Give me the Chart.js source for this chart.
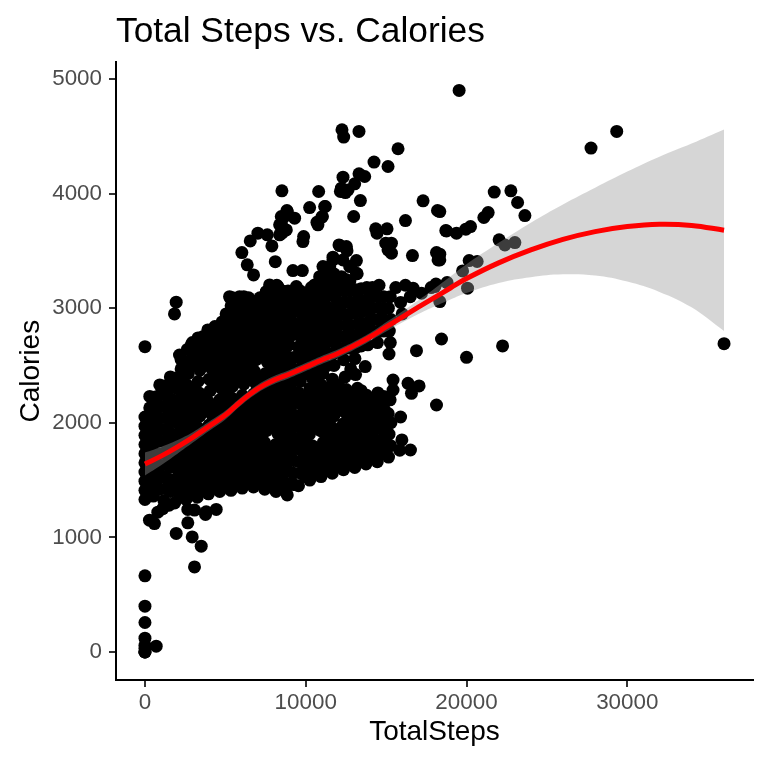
<!DOCTYPE html>
<html>
<head>
<meta charset="utf-8">
<script src="https://cdn.jsdelivr.net/npm/chart.js@4.4.1/dist/chart.umd.min.js"></script>
<style>
  html, body { margin: 0; padding: 0; background: #fff; }
  #wrap { width: 768px; height: 766px; }
</style>
</head>
<body>
<div id="wrap"><canvas id="chart" width="768" height="766"></canvas></div>
<script>
/* ===== data: [TotalSteps, Calories] ===== */
const zeroStepDays = [
  [0, 0], [0, 0], [0, 0], [0, 30], [0, 57], [0, 120], [0, 257], [0, 399], [0, 664], [700, 50],
  [0, 1330], [0, 1410], [0, 1490], [0, 1570], [0, 1650], [0, 1730], [0, 1810], [0, 1890],
  [0, 1970], [0, 2050], [0, 2664],
];

const lowDays = [
  [280, 1150], [590, 1120], [800, 1220], [1110, 1250], [1500, 1280], [1943, 1034], [2665, 1127],
  [2939, 1004], [3500, 923], [3082, 742], [2665, 1244], [3082, 1238], [3767, 1200], [4434, 1244],
  [3810, 1223],
];

const coreDays = [
  [520, 1360], [650, 1455], [580, 1560], [700, 1650], [540, 1750], [660, 1845], [600, 1950], [720, 2045], [560, 2140], [640, 2225],
  [1180, 1320], [1300, 1425], [1220, 1530], [1340, 1640], [1200, 1735], [1290, 1840], [1160, 1940], [1320, 2045], [1240, 2140], [1360, 2235], [1210, 2320],
  [1850, 1300], [1960, 1405], [1880, 1500], [2000, 1600], [1840, 1705], [1940, 1800], [1870, 1895], [2010, 2000], [1900, 2100], [1830, 2195], [1980, 2300], [1920, 2390],
  [2550, 1330], [2660, 1430], [2580, 1535], [2700, 1630], [2540, 1730], [2640, 1830], [2590, 1935], [2720, 2030], [2560, 2130], [2680, 2230], [2600, 2330], [2700, 2430], [2560, 2530], [2640, 2640],
  [3250, 1350], [3380, 1455], [3280, 1560], [3400, 1660], [3220, 1760], [3340, 1860], [3280, 1960], [3420, 2060], [3260, 2160], [3360, 2260], [3300, 2360], [3420, 2460], [3240, 2560], [3360, 2660], [3300, 2740],
  [3950, 1380], [4080, 1480], [3980, 1580], [4100, 1680], [3930, 1780], [4050, 1880], [3990, 1980], [4120, 2080], [3960, 2180], [4060, 2280], [4000, 2380], [4110, 2480], [3940, 2580], [4060, 2680], [4000, 2790],
  [4650, 1400], [4780, 1500], [4680, 1600], [4800, 1700], [4630, 1800], [4750, 1900], [4690, 2000], [4820, 2100], [4660, 2200], [4760, 2300], [4700, 2400], [4810, 2500], [4640, 2600], [4760, 2700], [4700, 2800], [4800, 2880],
  [5350, 1410], [5480, 1510], [5380, 1620], [5500, 1720], [5330, 1820], [5450, 1920], [5390, 2020], [5520, 2120], [5360, 2220], [5460, 2320], [5400, 2420], [5510, 2520], [5340, 2620], [5460, 2720], [5400, 2820], [5500, 2920], [5360, 3020], [5450, 3090],
  [6050, 1430], [6180, 1530], [6080, 1640], [6200, 1740], [6030, 1840], [6150, 1940], [6090, 2040], [6220, 2140], [6060, 2240], [6160, 2340], [6100, 2440], [6210, 2540], [6040, 2640], [6160, 2740], [6100, 2840], [6200, 2940], [6060, 3040], [6150, 3100],
  [6750, 1440], [6880, 1540], [6780, 1650], [6900, 1750], [6730, 1850], [6850, 1950], [6790, 2050], [6920, 2150], [6760, 2250], [6860, 2350], [6800, 2450], [6910, 2550], [6740, 2650], [6860, 2750], [6800, 2850], [6900, 2950], [6760, 3050],
  [7450, 1420], [7580, 1520], [7480, 1630], [7600, 1730], [7430, 1830], [7550, 1930], [7490, 2030], [7620, 2130], [7460, 2230], [7560, 2330], [7500, 2430], [7610, 2530], [7440, 2630], [7560, 2730], [7500, 2830], [7600, 2930], [7460, 3030], [7550, 3140],
  [8150, 1400], [8280, 1500], [8180, 1610], [8300, 1710], [8130, 1810], [8250, 1910], [8190, 2010], [8320, 2110], [8160, 2210], [8260, 2310], [8200, 2410], [8310, 2510], [8140, 2610], [8260, 2710], [8200, 2810], [8300, 2910], [8160, 3010], [8250, 3110], [8200, 3200],
  [8850, 1370], [8980, 1470], [8880, 1580], [9000, 1680], [8830, 1780], [8950, 1880], [8890, 1980], [9020, 2080], [8860, 2180], [8960, 2280], [8900, 2380], [9010, 2480], [8840, 2580], [8960, 2680], [8900, 2780], [9000, 2880], [8860, 2980], [8950, 3080], [8900, 3150],
  [9550, 1450], [9680, 1560], [9580, 1660], [9700, 1760], [9530, 1860], [9650, 1960], [9590, 2060], [9720, 2160], [9560, 2260], [9660, 2360], [9600, 2460], [9710, 2560], [9540, 2660], [9660, 2760], [9600, 2860], [9700, 2960], [9560, 3060], [9650, 3150],
  [10250, 1500], [10380, 1600], [10280, 1700], [10400, 1800], [10230, 1900], [10350, 2000], [10290, 2100], [10420, 2200], [10260, 2300], [10360, 2400], [10300, 2500], [10410, 2600], [10240, 2700], [10360, 2800], [10300, 2900], [10400, 3000], [10260, 3100], [10350, 3180],
  [10950, 1530], [11080, 1630], [10980, 1730], [11100, 1830], [10930, 1930], [11050, 2030], [10990, 2130], [11120, 2230], [10960, 2330], [11060, 2430], [11000, 2530], [11110, 2630], [10940, 2730], [11060, 2830], [11000, 2930], [11100, 3030], [10960, 3130], [11050, 3220],
  [11650, 1560], [11780, 1660], [11680, 1760], [11800, 1860], [11630, 1960], [11750, 2060], [11690, 2160], [11820, 2260], [11660, 2380], [11760, 2500], [11700, 2600], [11810, 2700], [11640, 2800], [11760, 2900], [11700, 3000], [11800, 3100], [11660, 3200], [11750, 3300],
  [12350, 1590], [12480, 1690], [12380, 1790], [12500, 1890], [12330, 1990], [12450, 2090], [12390, 2190], [12520, 2290], [12450, 2400], [12800, 2470], [12360, 2550], [12460, 2650], [12400, 2750], [12510, 2850], [12340, 2950], [12460, 3050], [12400, 3150], [12500, 3250],
  [13050, 1610], [13180, 1710], [13080, 1810], [13200, 1910], [13030, 2010], [13150, 2110], [13090, 2210], [13220, 2300], [13100, 2420], [13060, 2560], [13160, 2660], [13100, 2760], [13210, 2860], [13040, 2960], [13160, 3060], [13100, 3160], [13200, 3300],
  [13750, 1640], [13880, 1740], [13780, 1840], [13900, 1940], [13730, 2040], [13850, 2140], [13790, 2240], [13700, 2490], [13860, 2680], [13800, 2780], [13910, 2880], [13740, 2980], [13860, 3080], [13800, 3180],
  [14450, 1660], [14580, 1740], [14480, 1840], [14600, 1960], [14430, 2060], [14550, 2160], [14490, 2260], [14460, 2700], [14560, 2800], [14500, 2900], [14610, 3000], [14440, 3100], [14560, 3200],
  [15150, 1700], [15280, 1800], [15180, 1900], [15300, 2000], [15130, 2080], [15250, 2200], [15180, 2600], [15260, 2700], [15200, 2800], [15300, 2900], [15140, 3000], [15260, 3100], [15600, 3180],
  [15850, 1760], [15980, 1850], [15900, 2050], [16000, 2950], [15900, 3050], [16200, 3200], [16500, 3100], [17200, 3130], [17800, 3180], [18100, 3210],
];

/* days sitting between the columns above, where the cloud is solid */
const coreFillDays = [
  [300, 1430], [300, 1530], [300, 1630], [300, 1730], [300, 1830], [300, 1930], [300, 2030], [300, 2130], [300, 2230],
  [920, 1420], [920, 1520], [920, 1620], [920, 1730], [920, 1840], [920, 1940], [920, 2040], [920, 2140], [920, 2240], [920, 2330],
  [1580, 1400], [1580, 1500], [1580, 1610], [1580, 1710], [1580, 1810], [1580, 1910], [1580, 2010], [1580, 2110], [1580, 2210], [1580, 2310], [1580, 2400],
  [2250, 1360], [2250, 1470], [2250, 1570], [2250, 1670], [2250, 1770], [2250, 1870], [2250, 1970], [2250, 2070], [2250, 2170], [2250, 2270], [2250, 2370], [2250, 2470], [2250, 2550],
  [2950, 1390], [2950, 1490], [2950, 1590], [2950, 1700], [2950, 1800], [2950, 1900], [2950, 2000], [2950, 2100], [2950, 2200], [2950, 2300], [2950, 2500], [2950, 2600], [2950, 2700],
  [3650, 1420], [3650, 1520], [3650, 1620], [3650, 1720], [3650, 1820], [3650, 1920], [3650, 2120], [3650, 2220], [3650, 2520], [3650, 2620], [3650, 2720],
  [4350, 1440], [4350, 1540], [4350, 1640], [4350, 1740], [4350, 1840], [4350, 1940], [4350, 2040], [4350, 2140], [4350, 2340], [4350, 2440], [4350, 2540], [4350, 2640], [4350, 2740], [4350, 2840],
  [5050, 1460], [5050, 1560], [5050, 1660], [5050, 1760], [5050, 1860], [5050, 1960], [5050, 2060], [5050, 2160], [5050, 2260], [5050, 2360], [5050, 2460], [5050, 2560], [5050, 2660], [5050, 2760], [5050, 2860], [5050, 2950],
  [5750, 1470], [5750, 1570], [5750, 1680], [5750, 1780], [5750, 1880], [5750, 1980], [5750, 2080], [5750, 2180], [5750, 2380], [5750, 2480], [5750, 2580], [5750, 2680], [5750, 2780], [5750, 2880], [5750, 2980], [5750, 3060],
  [6450, 1490], [6450, 1590], [6450, 1700], [6450, 1800], [6450, 1900], [6450, 2000], [6450, 2100], [6450, 2200], [6450, 2400], [6450, 2500], [6450, 2600], [6450, 2700], [6450, 2800], [6450, 2900], [6450, 3000], [6450, 3090],
  [7150, 1480], [7150, 1580], [7150, 1690], [7150, 1790], [7150, 1890], [7150, 1990], [7150, 2090], [7150, 2190], [7150, 2290], [7150, 2390], [7150, 2590], [7150, 2690], [7150, 2790], [7150, 2890], [7150, 2990], [7150, 3090],
  [7850, 1460], [7850, 1560], [7850, 1670], [7850, 1770], [7850, 1970], [7850, 2070], [7850, 2170], [7850, 2270], [7850, 2370], [7850, 2470], [7850, 2570], [7850, 2670], [7850, 2770], [7850, 2870], [7850, 2970], [7850, 3070], [7850, 3160],
  [8550, 1440], [8550, 1540], [8550, 1650], [8550, 1750], [8550, 1850], [8550, 1950], [8550, 2050], [8550, 2150], [8550, 2250], [8550, 2350], [8550, 2450], [8550, 2550], [8550, 2650], [8550, 2750], [8550, 2850], [8550, 2950], [8550, 3050], [8550, 3150],
  [9250, 1460], [9250, 1560], [9250, 1670], [9250, 1770], [9250, 1870], [9250, 1970], [9250, 2070], [9250, 2170], [9250, 2270], [9250, 2370], [9250, 2470], [9250, 2570], [9250, 2770], [9250, 2870], [9250, 2970], [9250, 3070], [9250, 3140],
  [9950, 1530], [9950, 1630], [9950, 1730], [9950, 1830], [9950, 1930], [9950, 2030], [9950, 2130], [9950, 2230], [9950, 2430], [9950, 2530], [9950, 2630], [9950, 2730], [9950, 2830], [9950, 2930], [9950, 3030], [9950, 3120],
  [10650, 1570], [10650, 1670], [10650, 1770], [10650, 1970], [10650, 2070], [10650, 2170], [10650, 2270], [10650, 2370], [10650, 2470], [10650, 2570], [10650, 2670], [10650, 2770], [10650, 2870], [10650, 2970], [10650, 3070], [10650, 3170],
  [11350, 1600], [11350, 1700], [11350, 1800], [11350, 1900], [11350, 2000], [11350, 2100], [11350, 2200], [11350, 2300], [11350, 2500], [11350, 2610], [11350, 2710], [11350, 2810], [11350, 2910], [11350, 3010], [11350, 3110], [11350, 3210],
  [12050, 1630], [12050, 1730], [12050, 1830], [12050, 1930], [12050, 2130], [12050, 2230], [12050, 2330], [12050, 2650], [12050, 2750], [12050, 2850], [12050, 2950], [12050, 3050], [12050, 3150], [12050, 3240],
  [12750, 1650], [12750, 1750], [12750, 1850], [12750, 1950], [12750, 2050], [12750, 2150], [12750, 2250], [12750, 2650], [12750, 2750], [12750, 2850], [12750, 2950], [12750, 3050], [12750, 3150], [12750, 3240],
  [13450, 1680], [13450, 1780], [13450, 1880], [13450, 1980], [13450, 2080], [13450, 2180], [13450, 2280], [13450, 2670], [13450, 2770], [13450, 2870], [13450, 2970], [13450, 3070], [13450, 3170],
  [14150, 1700], [14150, 1800], [14150, 1900], [14150, 2000], [14150, 2100], [14150, 2200], [14150, 2800], [14150, 2900], [14150, 3000], [14150, 3100], [14150, 3180],
  [14850, 1730], [14850, 1830], [14850, 1930], [14850, 2030], [14850, 2130], [14850, 2230], [14850, 2800], [14850, 2900], [14850, 3000], [14850, 3100],
];

const highDays = [
  [1943, 3052], [1837, 2950], [2148, 2591], [2877, 2679], [3600, 2751], [3910, 2810], [4534, 2825],
  [5262, 2926], [5262, 3100], [5885, 3100], [5324, 3087], [5780, 3087], [6507, 3072], [7547, 3144],
  [7753, 3203], [8270, 3188], [6028, 3485], [6362, 3378], [6756, 3290], [6550, 3587], [7025, 3654],
  [7609, 3640], [7896, 3543], [8107, 3406], [8519, 4024], [8480, 3800], [8480, 3742], [8854, 3843],
  [9309, 3785], [8519, 3654], [9870, 3625], [9826, 3581], [9204, 3328], [9789, 3328], [10243, 3878],
  [10804, 4018], [11221, 3887], [11034, 3800], [10760, 3727], [12255, 4557], [12361, 4493],
  [12318, 4143], [12155, 4018], [12629, 4032], [12068, 3552], [12529, 3537], [12318, 3421],
  [11694, 3421], [11489, 3363], [11283, 3305], [12112, 3218], [12529, 3159], [13313, 4542],
  [15742, 4391], [14248, 4275], [15119, 4236], [13313, 4172], [13668, 4149], [13045, 4085],
  [12217, 4047], [12467, 4009], [13400, 3939], [11177, 3887], [8830, 3852], [11009, 3795],
  [12983, 3800], [10698, 3749], [17299, 3937], [18196, 3852], [16203, 3764], [14353, 3692],
  [15057, 3692], [18713, 3677], [14434, 3654], [12112, 3546], [12566, 3502], [14976, 3567],
  [15331, 3567], [15119, 3509], [15331, 3480], [16638, 3459], [18133, 3485], [18233, 3421],
  [13151, 3415], [12734, 3363], [11694, 3445], [11071, 3363], [11489, 3319], [13151, 3305],
  [10866, 3275], [12217, 3275], [12006, 3218], [10555, 3203], [9415, 3188], [16676, 3174],
  [18027, 3188], [8687, 3800], [8376, 3727], [8793, 3683], [8376, 3640],
];

const activeDays = [
  [19541, 4900], [29344, 4542], [27745, 4397], [21725, 4013], [22760, 4024], [23178, 3922],
  [23632, 3808], [21347, 3834], [21079, 3791], [18339, 3843], [18757, 3674], [19379, 3654],
  [19958, 3689], [20250, 3712], [22030, 3596], [22386, 3552], [23009, 3572], [18339, 3471],
  [18339, 3421], [20165, 3415], [20663, 3407], [19755, 3325], [18793, 3223], [20064, 3174],
  [18339, 3057], [36019, 2690], [18444, 2731], [20002, 2571], [22244, 2670], [18133, 2155],
  [16888, 2629], [15431, 2373], [15431, 2286], [16364, 2344], [17050, 2321], [16576, 2257],
  [16514, 1762],
];

/* loess fit and its confidence band */
const smoothSteps = [0, 1000, 2000, 3000, 4000, 5000, 6000, 7000, 8000, 9000, 10000, 11000, 12000, 13000,
  14000, 15000, 16000, 17000, 18000, 19000, 20000, 22000, 24000, 26000, 28000, 30000, 32000, 34000, 36019];
const smoothCalories = [1640, 1709, 1788, 1875, 1971, 2067, 2190, 2295, 2370, 2425, 2486, 2548, 2605, 2672,
  2748, 2836, 2922, 3008, 3092, 3176, 3258, 3395, 3508, 3600, 3668, 3712, 3732, 3722, 3680];
const bandLower = [1540, 1629, 1728, 1830, 1931, 2029, 2155, 2260, 2335, 2390, 2451, 2513, 2570, 2637,
  2713, 2796, 2874, 2948, 3014, 3076, 3133, 3220, 3270, 3295, 3285, 3232, 3142, 3007, 2800];
const bandUpper = [1740, 1789, 1848, 1920, 2011, 2105, 2225, 2330, 2405, 2460, 2521, 2583, 2640, 2707,
  2783, 2876, 2970, 3068, 3170, 3276, 3383, 3570, 3746, 3905, 4051, 4192, 4322, 4437, 4560];

const xTicks = [0, 10000, 20000, 30000];
const yTicks = [0, 1000, 2000, 3000, 4000, 5000];

/* ===== chart ===== */
const FONT = "'Liberation Sans', Arial, Helvetica, sans-serif";
Chart.defaults.font.family = FONT;

const toXY = (pairs) => pairs.map(([x, y]) => ({ x, y }));
const curve = (ys) => smoothSteps.map((x, i) => ({ x, y: ys[i] }));

const allDays = [].concat(zeroStepDays, lowDays, coreDays, coreFillDays, highDays, activeDays);

function axis(min, max, tickValues, title, tickPad, fit) {
  return {
    type: "linear",
    min,
    max,
    afterBuildTicks: (s) => { s.ticks = tickValues.map((v) => ({ value: v })); },
    afterFit: fit,
    grid: { drawOnChartArea: false, drawTicks: true, tickLength: 7, color: "#333333", lineWidth: 2 },
    border: { display: true, color: "#000000", width: 2 },
    ticks: {
      color: "#4d4d4d",
      font: { size: 22.4 },
      padding: tickPad,
      maxRotation: 0,
      autoSkip: false,
      callback: (v) => String(v),
    },
    title: { display: true, text: title, color: "#000000", font: { size: 28 }, padding: { top: 14, bottom: 17 } },
  };
}

new Chart(document.getElementById("chart"), {
  type: "scatter",
  data: {
    datasets: [
      {
        data: toXY(allDays),
        backgroundColor: "#000000",
        borderWidth: 0,
        pointRadius: 6.5,
        pointHoverRadius: 6.5,
        order: 4,
      },
      {
        type: "line",
        data: curve(bandLower),
        borderWidth: 0,
        pointRadius: 0,
        tension: 0.4,
        fill: false,
        order: 3,
      },
      {
        type: "line",
        data: curve(bandUpper),
        borderWidth: 0,
        pointRadius: 0,
        tension: 0.4,
        fill: "-1",
        backgroundColor: "rgba(153,153,153,0.4)",
        order: 2,
      },
      {
        type: "line",
        data: curve(smoothCalories),
        borderColor: "#ff0000",
        borderWidth: 5,
        pointRadius: 0,
        tension: 0.4,
        fill: false,
        order: 1,
      },
    ],
  },
  options: {
    responsive: false,
    animation: false,
    devicePixelRatio: 1,
    layout: { padding: { top: 0, right: 15, bottom: 0, left: 0 } },
    plugins: {
      legend: { display: false },
      tooltip: { enabled: false },
      title: {
        display: true,
        text: "Total Steps vs. Calories",
        align: "start",
        fullSize: false,
        color: "#000000",
        font: { size: 35.3, weight: "normal" },
        padding: { top: 11, bottom: 9 },
      },
    },
    scales: {
      x: axis(-1801, 37820, xTicks, "TotalSteps", 2, (s) => { s.height = 86; }),
      y: axis(-245, 5145, yTicks, "Calories", 7, (s) => { s.width = 116; }),
    },
  },
});
</script>
</body>
</html>
